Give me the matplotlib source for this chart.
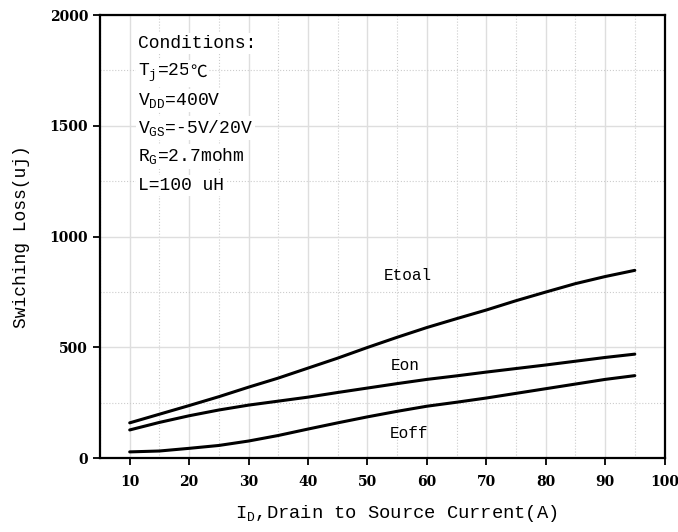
import matplotlib.pyplot as plt
from matplotlib.ticker import MultipleLocator

# Switching loss vs drain current
current = [10, 15, 20, 25, 30, 35, 40, 45, 50, 55, 60, 65, 70, 75, 80, 85, 90, 95]
e_total = [160, 199, 238, 278, 321, 362, 407, 452, 500, 546, 590, 630, 669, 711, 750, 788, 820, 848]
e_on = [128, 162, 192, 218, 240, 258, 276, 297, 317, 337, 356, 372, 389, 405, 421, 438, 455, 470]
e_off = [29, 33, 45, 58, 78, 103, 132, 160, 187, 212, 235, 253, 272, 293, 314, 335, 356, 373]

curve_labels = ["Etoal", "Eon", "Eoff"]
label_pos = [(56.8, 823), (56.4, 418), (57.0, 112)]

conditions = [
    "Conditions:",
    r"T$_{\rm j}$=25",
    r"V$_{\rm DD}$=400V",
    r"V$_{\rm GS}$=-5V/20V",
    r"R$_{\rm G}$=2.7mohm",
    "L=100 uH",
]

mono = ["Liberation Mono", "DejaVu Sans"]
plt.rcParams["mathtext.fontset"] = "custom"
plt.rcParams["mathtext.rm"] = "Liberation Mono"

fig = plt.figure(figsize=(6.78, 5.32), dpi=100)
ax = fig.add_axes([0.1475, 0.1385, 0.8326, 0.8333])

for ys in (e_total, e_on, e_off):
    ax.plot(current, ys, color="black", linewidth=2.2, solid_capstyle="round")

ax.set_xlim(5, 100)
ax.set_ylim(0, 2000)
ax.xaxis.set_minor_locator(MultipleLocator(5))
ax.yaxis.set_major_locator(MultipleLocator(500))
ax.yaxis.set_minor_locator(MultipleLocator(250))
ax.set_xticks(range(10, 101, 10))

ax.grid(which="major", color="#dedede", linewidth=1.0, linestyle="-")
ax.grid(which="minor", color="#cccccc", linewidth=0.8, linestyle=":")
ax.set_axisbelow(True)

ax.tick_params(which="major", direction="out", length=5, width=1.3)
ax.tick_params(axis="x", pad=7)
ax.tick_params(which="minor", length=0)
for lab in ax.get_xticklabels() + ax.get_yticklabels():
    lab.set_family("DejaVu Serif")
    lab.set_fontweight("bold")
    lab.set_fontsize(10)

for s in ax.spines.values():
    s.set_linewidth(1.6)
    s.set_color("black")

ax.set_xlabel(r"I$_{\rm D}$,Drain to Source Current(A)", family=mono, fontsize=13.5,
              labelpad=10, x=0.524)
ax.set_ylabel("Swiching Loss(uj)", family=mono, fontsize=13, labelpad=14)

for name, (x, y) in zip(curve_labels, label_pos):
    ax.text(x, y, name, family=mono, fontsize=11.5, ha="center", va="center")

# conditions block, each line on its own white patch so the grid breaks around it
box = dict(facecolor="white", edgecolor="none", pad=1.5)
for i, line in enumerate(conditions):
    t = ax.text(0.067, 0.9256 - i * 0.064, line, transform=ax.transAxes, family=mono,
                fontsize=13, ha="left", va="baseline", bbox=box)
    if i == 1:
        ax.annotate("℃", xy=(1, 0.9256 - 0.064), xycoords=(t, "axes fraction"),
                    family=["Noto Sans CJK SC", "DejaVu Sans"], fontsize=12,
                    ha="left", va="baseline", bbox=box)

fig.savefig("out.png", dpi=100)
